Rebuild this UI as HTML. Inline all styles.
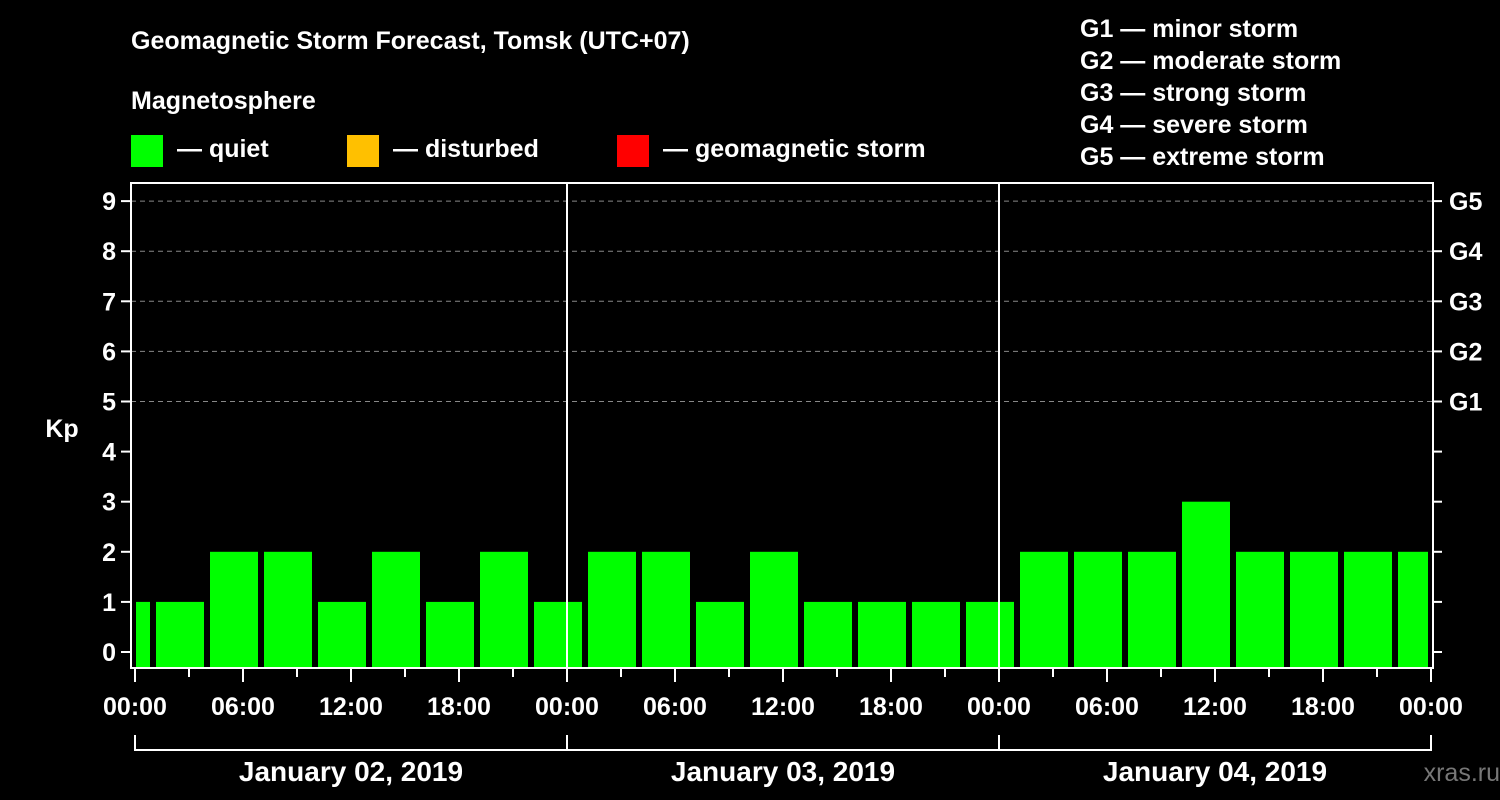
<!DOCTYPE html>
<html><head><meta charset="utf-8"><style>
html,body{margin:0;padding:0;background:#000;}
svg{display:block;font-family:"Liberation Sans",Arial,sans-serif;font-weight:bold;}
</style></head><body>
<svg id="chart" width="1500" height="800" viewBox="0 0 1500 800">
<rect x="0" y="0" width="1500" height="800" fill="#000"/>
<text x="131" y="49" fill="#fff" font-size="25">Geomagnetic Storm Forecast, Tomsk (UTC+07)</text>
<text x="131" y="109" fill="#fff" font-size="25">Magnetosphere</text>
<g><rect x="131" y="135" width="32" height="32" fill="#00ff00"/><text x="177" y="157" fill="#fff" font-size="25">— quiet</text></g>
<g><rect x="347" y="135" width="32" height="32" fill="#ffc000"/><text x="393" y="157" fill="#fff" font-size="25">— disturbed</text></g>
<g><rect x="617" y="135" width="32" height="32" fill="#ff0000"/><text x="663" y="157" fill="#fff" font-size="25">— geomagnetic storm</text></g>
<g fill="#fff" font-size="25">
<text x="1080" y="37">G1 — minor storm</text>
<text x="1080" y="69">G2 — moderate storm</text>
<text x="1080" y="101">G3 — strong storm</text>
<text x="1080" y="133">G4 — severe storm</text>
<text x="1080" y="165">G5 — extreme storm</text>
</g>
<text x="62" y="437" fill="#fff" font-size="25" text-anchor="middle">Kp</text>
<g id="grid"></g><g id="bars"></g><g id="axes"></g>
<text x="1500" y="781" fill="#777" font-size="25" text-anchor="end" font-weight="normal">xras.ru</text>
</svg>
<script>
const kpValues = [1,1,2,2,1,2,1,2,1, 2,2,1,2,1,1,1,1, 2,2,2,3,2,2,2,2];
const slotStartHours = [-2,1,4,7,10,13,16,19,22,25,28,31,34,37,40,43,46,49,52,55,58,61,64,67,70];
const yTicks = [0,1,2,3,4,5,6,7,8,9];
const gLabels = ["","","","","","G1","G2","G3","G4","G5"];
const xTickLabels = ["00:00","06:00","12:00","18:00","00:00","06:00","12:00","18:00","00:00","06:00","12:00","18:00","00:00"];
const dayLabels = ["January 02, 2019","January 03, 2019","January 04, 2019"];
const NS="http://www.w3.org/2000/svg";
const X0=135,PXH=18,L=131,R=1433,T=183,B=668;
const xs=h=>X0+h*PXH; const ys=k=>652-50.1*k;
function mk(tag,attrs,parent,txt){const e=document.createElementNS(NS,tag);for(const k in attrs)e.setAttribute(k,attrs[k]);if(txt!==undefined)e.textContent=txt;parent.appendChild(e);return e;}
const grid=document.getElementById('grid'),bars=document.getElementById('bars'),axes=document.getElementById('axes');
yTicks.forEach((k,i)=>{
  if(k>=5){const g=mk('line',{x1:L,x2:R,y1:ys(k),y2:ys(k),stroke:'#888','stroke-dasharray':'5,4','stroke-width':1},grid);
  
  }
  const t=mk('line',{x1:L-10,x2:L,y1:ys(k),y2:ys(k),stroke:'#fff','stroke-width':2},axes);
  
  
  const t2=mk('line',{x1:R,x2:R+9,y1:ys(k),y2:ys(k),stroke:'#fff','stroke-width':2},axes);
  
  
  const lb=mk('text',{x:L-15,y:ys(k)+9,fill:'#fff','font-size':25,'text-anchor':'end'},axes,String(k));
  
  
  if(gLabels[i]){const gl=mk('text',{x:R+16,y:ys(k)+9,fill:'#fff','font-size':25},axes,gLabels[i]);
  
  }
});
kpValues.forEach((v,i)=>{
  const s=Math.max(slotStartHours[i],0),e=Math.min(slotStartHours[i]+3,72);
  const x1=xs(s)+(slotStartHours[i]<0?1:3),x2=xs(e)-(slotStartHours[i]+3>72?3:3);
  const color=v>=5?'#ff0000':(v>=4?'#ffc000':'#00ff00');
  const r=mk('rect',{x:x1,y:ys(v),width:x2-x1,height:B-ys(v),fill:color},bars);
  
  
});
[24,48].forEach(h=>{const d=mk('line',{x1:xs(h),x2:xs(h),y1:T,y2:B,stroke:'#fff','stroke-width':2},axes);

});
const fr=mk('rect',{x:L,y:T,width:R-L,height:B-T,fill:'none',stroke:'#fff','stroke-width':2},axes);


for(let h=0;h<=72;h+=3){const major=h%6===0;
  const t=mk('line',{x1:xs(h),x2:xs(h),y1:B,y2:B+(major?14:9),stroke:'#fff','stroke-width':2},axes);
  
  }
xTickLabels.forEach((s,i)=>{const t=mk('text',{x:xs(i*6),y:715,fill:'#fff','font-size':25,'text-anchor':'middle'},axes,s);

});
const br=mk('path',{d:`M${xs(0)} 735V750H${xs(72)}V735M${xs(24)} 735V750M${xs(48)} 735V750`,fill:'none',stroke:'#fff','stroke-width':2},axes);


dayLabels.forEach((s,i)=>{const t=mk('text',{x:xs(i*24+12),y:781,fill:'#fff','font-size':28,'text-anchor':'middle'},axes,s);

});
</script>
</body></html>
